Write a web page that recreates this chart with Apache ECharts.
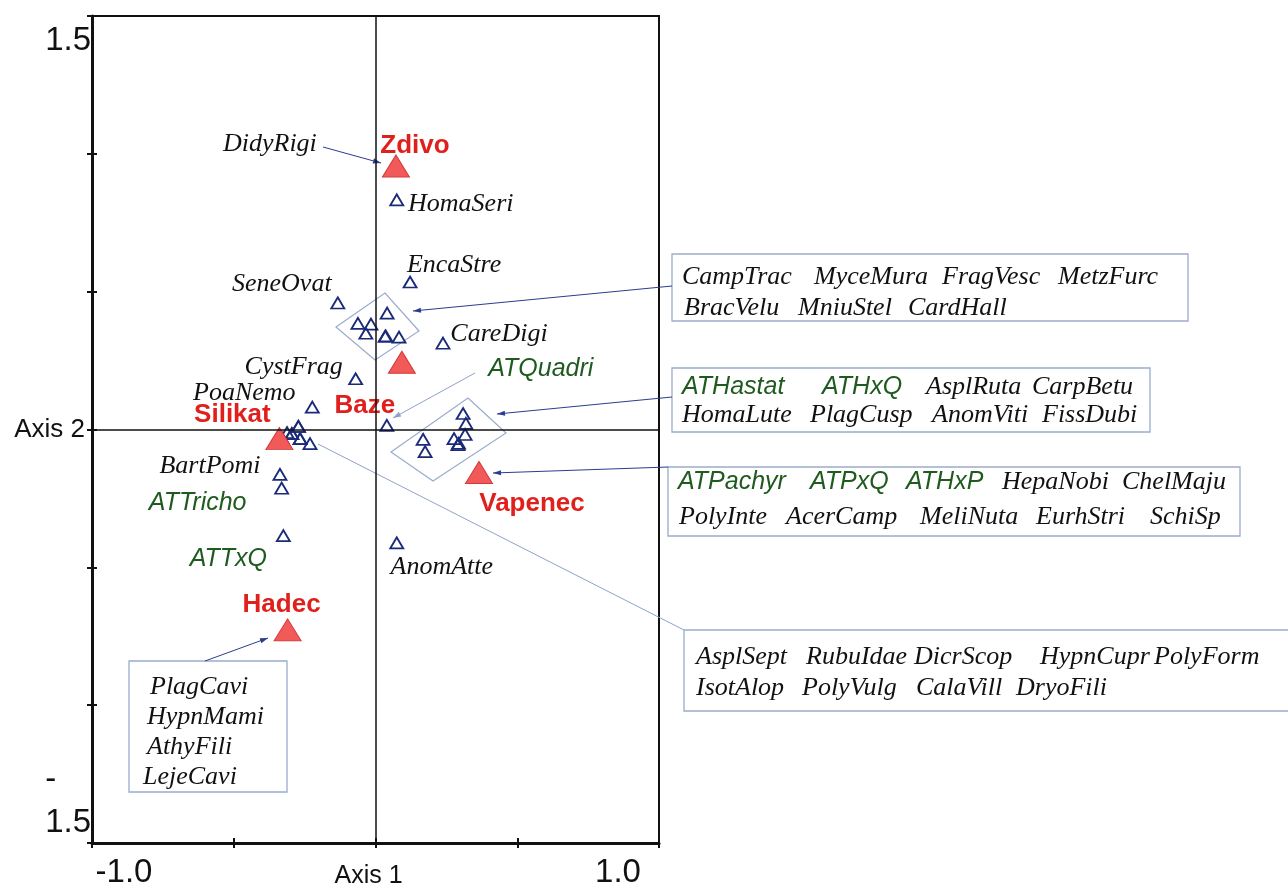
<!DOCTYPE html>
<html>
<head>
<meta charset="utf-8">
<script src="https://cdn.jsdelivr.net/npm/echarts@6/dist/echarts.min.js"></script>
<style>
  html, body { margin: 0; padding: 0; background: #ffffff; }
  #main { width: 1288px; height: 888px; }
</style>
</head>
<body>
<div id="main"></div>
<script>
// CCA ordination biplot: environmental centroids and species scores (axis 1 x axis 2)

// Environmental variable centroids
const envNames = ['Zdivo', 'Baze', 'Silikat', 'Vapenec', 'Hadec'];
const envAxis1 = [0.072, 0.093, -0.339, 0.365, -0.310];
const envAxis2 = [0.956, 0.244, -0.033, -0.156, -0.727];

// Species labelled next to their own point
const soloNames = ['HomaSeri', 'EncaStre', 'SeneOvat', 'CareDigi', 'CystFrag', 'PoaNemo',
                   'ATQuadri', 'BartPomi', 'ATTricho', 'ATTxQ', 'AnomAtte', 'DidyRigi'];
const soloAxis1 = [0.075, 0.122, -0.133, 0.238, -0.070, -0.223, 0.040, -0.337, -0.331, -0.325, 0.075, 0.072];
const soloAxis2 = [0.833, 0.535, 0.459, 0.313, 0.184, 0.081, 0.015, -0.163, -0.213, -0.385, -0.411, 0.956];

// Species listed together in boxes
const groupA = ['CampTrac', 'MyceMura', 'FragVesc', 'MetzFurc', 'BracVelu', 'MniuStel', 'CardHall'];
const groupAAxis1 = [0.041, -0.062, -0.016, -0.034, 0.034, 0.083, 0.036];
const groupAAxis2 = [0.422, 0.385, 0.382, 0.349, 0.338, 0.335, 0.340];

const groupB = ['ATHastat', 'ATHxQ', 'AsplRuta', 'CarpBetu', 'HomaLute', 'PlagCusp', 'AnomViti', 'FissDubi'];
const groupBAxis1 = [0.309, 0.319, 0.316, 0.277, 0.291, 0.168, 0.175, 0.293];
const groupBAxis2 = [0.058, 0.022, -0.018, -0.033, -0.055, -0.036, -0.080, -0.050];

const groupC = ['ATPachyr', 'ATPxQ', 'ATHxP', 'HepaNobi', 'ChelMaju', 'PolyInte', 'AcerCamp', 'MeliNuta', 'EurhStri', 'SchiSp'];
const groupCAxis1 = [0.365, 0.365, 0.365, 0.365, 0.365, 0.365, 0.365, 0.365, 0.365, 0.365];
const groupCAxis2 = [-0.156, -0.156, -0.156, -0.156, -0.156, -0.156, -0.156, -0.156, -0.156, -0.156];

const groupD = ['AsplSept', 'RubuIdae', 'DicrScop', 'HypnCupr', 'PolyForm', 'IsotAlop', 'PolyVulg', 'CalaVill', 'DryoFili'];
const groupDAxis1 = [-0.272, -0.295, -0.266, -0.231, -0.312, -0.272, -0.266, -0.295, -0.330];
const groupDAxis2 = [0.011, -0.015, -0.033, -0.051, -0.011, 0.011, -0.033, -0.015, -0.030];

const groupE = ['PlagCavi', 'HypnMami', 'AthyFili', 'LejeCavi'];
const groupEAxis1 = [-0.310, -0.310, -0.310, -0.310];
const groupEAxis2 = [-0.727, -0.727, -0.727, -0.727];

// Axis tick labels
const xTickValues = [-1, 0, 1];
const xTickLabels = ['-1.0', 'Axis 1', '1.0'];
const yTickValues = [-1.5, 0, 1.5];
const yTickLabels = ['-1.5', 'Axis 2', '1.5'];

// ---- layout (pixels) ----
const labelOffsets = {
  Zdivo: [19, -20], Baze: [-37, 44], Silikat: [-47, -24], Vapenec: [53, 31], Hadec: [-6, -25],
  HomaSeri: [64, 4], EncaStre: [44, -17], SeneOvat: [-56, -19], CareDigi: [56, -9],
  CystFrag: [-62, -12], PoaNemo: [-68, -14], ATQuadri: [154, -56], BartPomi: [-70, -8],
  ATTricho: [-84, 15], ATTxQ: [-55, 23], AnomAtte: [45, 24], DidyRigi: [-126, -22]
};

const callouts = [
  { names: groupA, rect: [672, 254, 516, 67], rows: [[682, 814, 942, 1058], [684, 798, 908]],
    rowY: [277, 308], from: [672, 286], to: [413, 311], dark: true },
  { names: groupB, rect: [672, 368, 478, 64], rows: [[682, 822, 926, 1032], [682, 810, 932, 1042]],
    rowY: [387, 415], from: [672, 397], to: [497, 414], dark: true },
  { names: groupC, rect: [668, 467, 572, 69], rows: [[678, 810, 906, 1002, 1122], [679, 786, 920, 1036, 1150]],
    rowY: [482, 517], from: [668, 467], to: [493, 473], dark: true },
  { names: groupD, rect: [684, 630, 640, 81], rows: [[696, 806, 914, 1040, 1154], [696, 802, 916, 1016]],
    rowY: [657, 688], from: [684, 630], to: [318, 444], dark: false },
  { names: groupE, rect: [129, 661, 158, 131], rows: [[150], [147], [147], [143]],
    rowY: [687, 717, 747, 777], from: [205, 661], to: [268, 638], dark: true }
];
const extraArrows = [
  { from: [323, 147], to: [381, 163], dark: true },   // DidyRigi -> Zdivo
  { from: [475, 373], to: [393, 418], dark: false }   // ATQuadri
];
const diamonds = [
  [[336, 327], [385, 293], [419, 331], [375, 360]],
  [[391, 452], [468, 398], [506, 433], [433, 481]]
];

const SERIF = '"Liberation Serif", "Times New Roman", serif';
const SANS = '"Liberation Sans", Arial, sans-serif';
const NAVY = '#1b2a78';
const GREEN = '#1f5a1f';
const RED = '#e0201c';
const ARROW_DARK = '#2a3d8f';
const ARROW_LIGHT = '#8fa2c8';
const BOX_LINE = '#9aaccc';

function isGreen(name) { return name.indexOf('AT') === 0; }

function speciesLabel(name) {
  const off = labelOffsets[name];
  if (!off) return { show: false };
  const green = isGreen(name);
  return {
    show: true, position: 'inside', align: 'center', verticalAlign: 'middle', offset: off,
    formatter: name,
    color: green ? GREEN : '#111111',
    fontFamily: green ? SANS : SERIF,
    fontStyle: 'italic',
    fontSize: green ? 25 : 26
  };
}

const speciesData = [];
function pushSpecies(names, xs, ys) {
  names.forEach(function (n, i) {
    speciesData.push({ name: n, value: [xs[i], ys[i]], label: speciesLabel(n) });
  });
}
pushSpecies(soloNames, soloAxis1, soloAxis2);
pushSpecies(groupA, groupAAxis1, groupAAxis2);
pushSpecies(groupB, groupBAxis1, groupBAxis2);
pushSpecies(groupC, groupCAxis1, groupCAxis2);
pushSpecies(groupD, groupDAxis1, groupDAxis2);
pushSpecies(groupE, groupEAxis1, groupEAxis2);

const envData = envNames.map(function (n, i) {
  return {
    name: n, value: [envAxis1[i], envAxis2[i]],
    label: {
      show: true, position: 'inside', align: 'center', verticalAlign: 'middle',
      offset: labelOffsets[n], formatter: n, color: RED,
      fontFamily: SANS, fontWeight: 'bold', fontSize: 26
    }
  };
});

// ---- annotation graphics ----
function arrowElements(from, to, color, head) {
  const els = [{
    type: 'line', silent: true, z: 5,
    shape: { x1: from[0], y1: from[1], x2: to[0], y2: to[1] },
    style: { stroke: color, lineWidth: 1 }
  }];
  if (head) {
    const dx = to[0] - from[0], dy = to[1] - from[1];
    const len = Math.sqrt(dx * dx + dy * dy);
    const ux = dx / len, uy = dy / len;
    const L = 8, W = 2.6;
    const bx = to[0] - ux * L, by = to[1] - uy * L;
    els.push({
      type: 'polygon', silent: true, z: 5,
      shape: { points: [[to[0], to[1]], [bx - uy * W, by + ux * W], [bx + uy * W, by - ux * W]] },
      style: { fill: color }
    });
  }
  return els;
}

function wordText(x, y, word) {
  const green = isGreen(word);
  return {
    type: 'text', silent: true, x: x, y: y, z: 6,
    style: {
      text: word,
      fill: green ? GREEN : '#111111',
      fontFamily: green ? SANS : SERIF,
      fontStyle: 'italic',
      fontSize: green ? 25 : 26,
      align: 'left', verticalAlign: 'middle',
      textAlign: 'left', textVerticalAlign: 'middle'
    }
  };
}

const graphics = [];
diamonds.forEach(function (pts) {
  graphics.push({
    type: 'polygon', silent: true, z: 1,
    shape: { points: pts },
    style: { fill: 'none', stroke: BOX_LINE, lineWidth: 1.2 }
  });
});
callouts.forEach(function (c) {
  graphics.push({
    type: 'rect', silent: true, z: 4,
    shape: { x: c.rect[0], y: c.rect[1], width: c.rect[2], height: c.rect[3] },
    style: { fill: '#ffffff', stroke: BOX_LINE, lineWidth: 1.3 }
  });
  let k = 0;
  c.rows.forEach(function (xs, r) {
    xs.forEach(function (x) {
      graphics.push(wordText(x, c.rowY[r], c.names[k]));
      k++;
    });
  });
  arrowElements(c.from, c.to, c.dark ? ARROW_DARK : ARROW_LIGHT, c.dark).forEach(function (e) { graphics.push(e); });
});
extraArrows.forEach(function (a) {
  arrowElements(a.from, a.to, a.dark ? ARROW_DARK : ARROW_LIGHT, true).forEach(function (e) { graphics.push(e); });
});

// ---- axes ----
function xLabel(v) {
  const i = xTickValues.indexOf(v);
  if (i < 0) return '';
  const key = ['lo', 'mid', 'hi'][i];
  return '{' + key + '|' + xTickLabels[i] + '}';
}
function yLabel(v) {
  const i = yTickValues.indexOf(v);
  if (i < 0) return '';
  const t = yTickLabels[i];
  if (i === 0) return '{neg|' + t.charAt(0) + '}\n{bot|' + t.slice(1) + '}';
  if (i === 1) return '{mid|' + t + '}';
  return '{top|' + t + '}';
}

const option = {
  backgroundColor: '#ffffff',
  animation: false,
  grid: {
    left: 92, right: 629, top: 16, bottom: 45,
    outerBoundsMode: 'none', containLabel: false,
    show: true, borderColor: '#111111', borderWidth: 2, backgroundColor: 'transparent'
  },
  xAxis: [
    {
      type: 'value', min: -1, max: 1, interval: 0.5, position: 'bottom',
      axisLine: { show: true, onZero: false, lineStyle: { color: '#111111', width: 3 } },
      axisTick: { show: true, length: 5, lineStyle: { color: '#111111', width: 2 } },
      splitLine: { show: false },
      axisLabel: {
        margin: 10, formatter: xLabel, color: '#111111', fontFamily: SANS,
        rich: {
          lo: { fontSize: 33, lineHeight: 40, fontFamily: SANS, color: '#111111', padding: [0, 0, 0, 64] },
          mid: { fontSize: 25, lineHeight: 40, fontFamily: SANS, color: '#111111', padding: [6, 14, 0, 0] },
          hi: { fontSize: 33, lineHeight: 40, fontFamily: SANS, color: '#111111', padding: [0, 82, 0, 0] }
        }
      }
    },
    {
      type: 'value', min: -1, max: 1, interval: 0.5, position: 'bottom',
      axisLine: { show: false, onZero: false },
      axisTick: { show: true, inside: true, length: 5, lineStyle: { color: '#111111', width: 2 } },
      axisLabel: { show: false },
      splitLine: { show: false }
    }
  ],
  yAxis: [
    {
      type: 'value', min: -1.5, max: 1.5, interval: 0.5, position: 'left',
      axisLine: { show: true, onZero: false, lineStyle: { color: '#111111', width: 3 } },
      axisTick: { show: true, length: 5, lineStyle: { color: '#111111', width: 2 } },
      splitLine: { show: false },
      axisLabel: {
        margin: 1, formatter: yLabel, color: '#111111', fontFamily: SANS,
        rich: {
          top: { fontSize: 33, lineHeight: 40, fontFamily: SANS, color: '#111111', padding: [49, 0, 0, 0] },
          mid: { fontSize: 26, lineHeight: 32, fontFamily: SANS, color: '#111111', padding: [0, 6, 0, 0] },
          neg: { fontSize: 33, lineHeight: 43, fontFamily: SANS, color: '#111111', align: 'left', padding: [0, 0, 84, 0] },
          bot: { fontSize: 33, lineHeight: 43, fontFamily: SANS, color: '#111111', padding: [0, 0, 84, 0] }
        }
      }
    },
    {
      type: 'value', min: -1.5, max: 1.5, interval: 0.5, position: 'left',
      axisLine: { show: false, onZero: false },
      axisTick: { show: true, inside: true, length: 5, lineStyle: { color: '#111111', width: 2 } },
      axisLabel: { show: false },
      splitLine: { show: false }
    }
  ],
  series: [
    {
      name: 'species', type: 'scatter', xAxisIndex: 0, yAxisIndex: 0, z: 3, silent: true,
      symbol: 'triangle', symbolSize: [13, 11],
      itemStyle: { color: 'rgba(0,0,0,0)', borderColor: NAVY, borderWidth: 1.8, opacity: 1 },
      emphasis: { disabled: true },
      data: speciesData,
      markLine: {
        silent: true, symbol: ['none', 'none'], animation: false,
        label: { show: false },
        lineStyle: { color: '#111111', width: 1.5, type: 'solid', opacity: 1 },
        emphasis: { disabled: true },
        data: [{ xAxis: 0 }, { yAxis: 0 }]
      }
    },
    {
      name: 'environment', type: 'scatter', xAxisIndex: 0, yAxisIndex: 0, z: 4, silent: true,
      symbol: 'triangle', symbolSize: [27, 22],
      itemStyle: { color: '#f25a5a', borderColor: '#d43a3a', borderWidth: 1, opacity: 1 },
      emphasis: { disabled: true },
      data: envData
    }
  ],
  graphic: { elements: graphics }
};

const chart = echarts.init(document.getElementById('main'), null, { renderer: 'canvas' });
chart.setOption(option);
</script>
</body>
</html>
